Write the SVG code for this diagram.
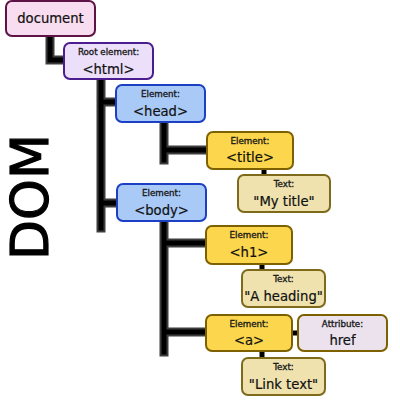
<svg xmlns="http://www.w3.org/2000/svg" width="400" height="400" viewBox="0 0 400 400">
<style>
.lbl{font-family:"DejaVu Sans","Liberation Sans",sans-serif;font-size:8.7px;fill:#1a1a1a;stroke:#1a1a1a;stroke-width:0.35;text-anchor:middle}
.val{font-family:"DejaVu Sans","Liberation Sans",sans-serif;font-size:13.2px;fill:#111;stroke:#111;stroke-width:0.2;text-anchor:middle}
.sh{fill:none;stroke:#3c3c3c;stroke-width:9;stroke-linecap:square;stroke-linejoin:miter}
.ln{fill:none;stroke:#000;stroke-width:5;stroke-linecap:square;stroke-linejoin:miter}
.box{stroke-width:2}
.doc{fill:#f8dcef;stroke:#5e1346}
.root{fill:#ecdff9;stroke:#4b1d8f}
.blue{fill:#a9c9f7;stroke:#1c3fc4}
.yel{fill:#fcd64c;stroke:#7d6100}
.txt{fill:#efe2ae;stroke:#7d6a1a}
.attr{fill:#ebe2ee;stroke:#7d6100}
</style>
<rect width="400" height="400" fill="#fff"/>
<g id="connectors">
<path class="sh" d="M50,36V60H64M101,79V228M101,102H116M101,203H117M164,122V160M164,150H207M164,221V352M164,243H206M164,332H206"/>
<path class="ln" d="M50,36V60H64M101,79V228M101,102H116M101,203H117M164,122V160M164,150H207M164,221V352M164,243H206M164,332H206M264,169V175M262,264V270M262,351V358M292,333H298"/>
</g>
<text x="48" y="197" transform="rotate(-90 48 197)" font-family="DejaVu Sans, sans-serif" font-size="52" text-anchor="middle" fill="#000" stroke="#000" stroke-width="1.2">DOM</text>
<g id="document"><rect class="box doc" x="6" y="1" width="89" height="35" rx="6"/><text class="val" x="50.5" y="23">document</text></g>
<g id="html"><rect class="box root" x="64" y="43" width="89" height="36" rx="6"/><text class="lbl" x="108.5" y="54.5">Root element:</text><text class="val" x="108.5" y="74">&lt;html&gt;</text></g>
<g id="head"><rect class="box blue" x="116" y="85" width="89" height="37" rx="6"/><text class="lbl" x="160.5" y="97">Element:</text><text class="val" x="160.5" y="116">&lt;head&gt;</text></g>
<g id="title"><rect class="box yel" x="207" y="132" width="86" height="37" rx="6"/><text class="lbl" x="250" y="144">Element:</text><text class="val" x="250" y="162">&lt;title&gt;</text></g>
<g id="mytitle"><rect class="box txt" x="238" y="175" width="92" height="37" rx="6"/><text class="lbl" x="284" y="187">Text:</text><text class="val" x="284" y="206">"My title"</text></g>
<g id="body"><rect class="box blue" x="117" y="184" width="89" height="37" rx="6"/><text class="lbl" x="161.5" y="196">Element:</text><text class="val" x="161.5" y="215">&lt;body&gt;</text></g>
<g id="h1"><rect class="box yel" x="206" y="226" width="86" height="38" rx="6"/><text class="lbl" x="249" y="238">Element:</text><text class="val" x="249" y="257">&lt;h1&gt;</text></g>
<g id="aheading"><rect class="box txt" x="242" y="270" width="83" height="37" rx="6"/><text class="lbl" x="283.5" y="282">Text:</text><text class="val" x="283.5" y="301">"A heading"</text></g>
<g id="a"><rect class="box yel" x="206" y="315" width="86" height="36" rx="6"/><text class="lbl" x="249" y="327">Element:</text><text class="val" x="249" y="345">&lt;a&gt;</text></g>
<g id="href"><rect class="box attr" x="298" y="315" width="89" height="36" rx="6"/><text class="lbl" x="342.5" y="327">Attribute:</text><text class="val" x="342.5" y="345">href</text></g>
<g id="linktext"><rect class="box txt" x="242" y="358" width="83" height="37" rx="6"/><text class="lbl" x="283.5" y="370">Text:</text><text class="val" x="283.5" y="389">"Link text"</text></g>
</svg>
